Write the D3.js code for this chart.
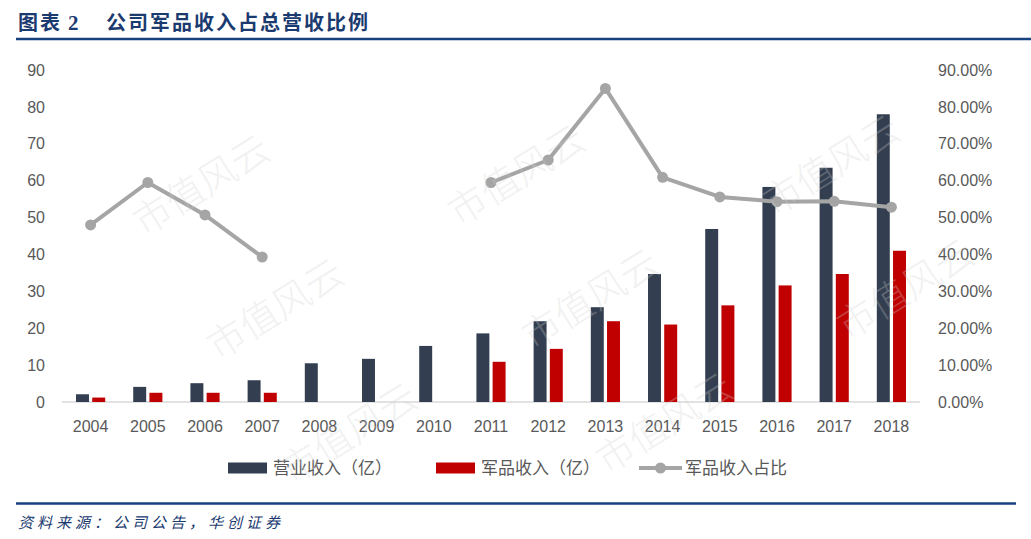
<!DOCTYPE html>
<html>
<head>
<meta charset="utf-8">
<script src="https://cdn.jsdelivr.net/npm/d3@7"></script>
<style>
  html, body { margin: 0; padding: 0; background: #fff; }
  svg { display: block; }
</style>
</head>
<body>
<svg id="chart"></svg>
<script>
// ---------------------------------------------------------------------------
// Data
// ---------------------------------------------------------------------------
const years = ["2004", "2005", "2006", "2007", "2008", "2009", "2010", "2011",
  "2012", "2013", "2014", "2015", "2016", "2017", "2018"];
// 营业收入（亿）
const revenue = [2.1, 4.1, 5.1, 5.9, 10.5, 11.7, 15.2, 18.6, 21.9, 25.7, 34.7, 46.9, 58.3, 63.5, 78.0];
// 军品收入（亿）
const military = [1.2, 2.5, 2.5, 2.5, null, null, null, 10.9, 14.4, 21.9, 21.0, 26.2, 31.6, 34.7, 41.0];
// 军品收入占比 (%)
const share = [48.0, 59.5, 50.7, 39.3, null, null, null, 59.5, 65.6, 85.0, 60.9, 55.6, 54.3, 54.4, 52.8];

const leftTicks = [0, 10, 20, 30, 40, 50, 60, 70, 80, 90];
const rightTicks = [0, 0.1, 0.2, 0.3, 0.4, 0.5, 0.6, 0.7, 0.8, 0.9];
const seriesNames = ["营业收入（亿）", "军品收入（亿）", "军品收入占比"];

// ---------------------------------------------------------------------------
// Layout
// ---------------------------------------------------------------------------
const W = 1031, H = 539;
const PLOT = { left: 62, right: 920, top: 70, bottom: 402 };
const COLORS = { revenue: "#333f50", military: "#c00000", share: "#a5a5a5",
  text: "#595959", title: "#1b3b70", rule: "#17427f" };
const FONT = "'Liberation Sans', Arial, sans-serif";
const CJK = "'Noto Sans CJK SC', sans-serif";

const svg = d3.select("#chart").attr("width", W).attr("height", H);

// ---------------------------------------------------------------------------
// Header / footer
// ---------------------------------------------------------------------------
const title = svg.append("g").attr("fill", COLORS.title)
  .attr("font-family", CJK).attr("font-weight", "bold").attr("font-size", 20);
title.append("text").attr("x", 18).attr("y", 30).attr("letter-spacing", 2).text("图表");
title.append("text").attr("x", 68).attr("y", 30).attr("font-size", 21)
  .attr("font-family", "'Liberation Serif', serif").text("2");
title.append("text").attr("x", 106).attr("y", 30).attr("letter-spacing", 2).text("公司军品收入占总营收比例");

svg.append("line").attr("x1", 16).attr("x2", W).attr("y1", 39).attr("y2", 39)
  .attr("stroke", COLORS.rule).attr("stroke-width", 2.5);
svg.append("line").attr("x1", 16).attr("x2", 1016).attr("y1", 503.5).attr("y2", 503.5)
  .attr("stroke", COLORS.rule).attr("stroke-width", 2.5);

svg.append("text").attr("x", 18).attr("y", 528)
  .attr("font-family", CJK).attr("font-style", "italic").attr("font-size", 15)
  .attr("letter-spacing", 4).attr("fill", COLORS.title)
  .text("资料来源：公司公告，华创证券");

// ---------------------------------------------------------------------------
// Scales
// ---------------------------------------------------------------------------
const x = d3.scaleBand().domain(years).range([PLOT.left, PLOT.right])
  .paddingInner(0.49).paddingOuter(0.245);
const xInner = d3.scaleBand().domain(["revenue", "military"])
  .range([0, x.bandwidth()]).paddingInner(0.2);
const y = d3.scaleLinear().domain([0, 90]).range([PLOT.bottom, PLOT.top]);
const y2 = d3.scaleLinear().domain([0, 0.9]).range([PLOT.bottom, PLOT.top]);
const cx = d => x(d) + x.bandwidth() / 2;

// ---------------------------------------------------------------------------
// Axes
// ---------------------------------------------------------------------------
function styleAxis(g) {
  g.select(".domain").remove();
  g.selectAll("text").attr("fill", COLORS.text).attr("font-family", FONT).attr("font-size", 16);
}

svg.append("g").attr("transform", `translate(${PLOT.left},0)`)
  .call(d3.axisLeft(y).tickValues(leftTicks).tickSize(0).tickPadding(17))
  .call(styleAxis);

svg.append("g").attr("transform", `translate(${PLOT.right},0)`)
  .call(d3.axisRight(y2).tickValues(rightTicks).tickSize(0).tickPadding(18)
    .tickFormat(d => (d * 100).toFixed(2) + "%"))
  .call(styleAxis);

const xAxis = svg.append("g").attr("transform", `translate(0,${PLOT.bottom})`)
  .call(d3.axisBottom(x).tickSize(0).tickPadding(19));
xAxis.select(".domain").attr("stroke", "#d9d9d9").attr("stroke-width", 1.5)
  .attr("d", `M${PLOT.left},0H${PLOT.right}`);
xAxis.selectAll("text").attr("fill", COLORS.text).attr("font-family", FONT).attr("font-size", 16);

// ---------------------------------------------------------------------------
// Bars
// ---------------------------------------------------------------------------
const barData = years.flatMap((yr, i) => [
  { year: yr, key: "revenue", value: revenue[i] },
  { year: yr, key: "military", value: military[i] }
]).filter(d => d.value !== null);

svg.append("g").selectAll("rect")
  .data(barData)
  .join("rect")
  .attr("x", d => x(d.year) + xInner(d.key))
  .attr("width", xInner.bandwidth())
  .attr("y", d => y(d.value))
  .attr("height", d => y(0) - y(d.value))
  .attr("fill", d => COLORS[d.key]);

// ---------------------------------------------------------------------------
// Share line
// ---------------------------------------------------------------------------
const lineData = years.map((yr, i) => ({ year: yr, value: share[i] }));
const line = d3.line()
  .defined(d => d.value !== null)
  .x(d => cx(d.year))
  .y(d => y2(d.value / 100));

svg.append("path").datum(lineData)
  .attr("d", line)
  .attr("fill", "none")
  .attr("stroke", COLORS.share)
  .attr("stroke-width", 4)
  .attr("stroke-linejoin", "round");

svg.append("g").selectAll("circle")
  .data(lineData.filter(d => d.value !== null))
  .join("circle")
  .attr("cx", d => cx(d.year))
  .attr("cy", d => y2(d.value / 100))
  .attr("r", 5.5)
  .attr("fill", COLORS.share);

// ---------------------------------------------------------------------------
// Legend
// ---------------------------------------------------------------------------
const legend = svg.append("g").attr("font-family", CJK).attr("font-size", 17).attr("fill", COLORS.text);
const legendY = 468;
[[228, COLORS.revenue], [436, COLORS.military]].forEach(([lx, c], i) => {
  legend.append("rect").attr("x", lx).attr("y", legendY - 5.5).attr("width", 39).attr("height", 11).attr("fill", c);
  legend.append("text").attr("x", lx + 45).attr("y", legendY).attr("dy", "0.35em").text(seriesNames[i]);
});
legend.append("line").attr("x1", 639).attr("x2", 682).attr("y1", legendY).attr("y2", legendY)
  .attr("stroke", COLORS.share).attr("stroke-width", 4);
legend.append("circle").attr("cx", 660.5).attr("cy", legendY).attr("r", 5.5).attr("fill", COLORS.share);
legend.append("text").attr("x", 685).attr("y", legendY).attr("dy", "0.35em").text(seriesNames[2]);

// ---------------------------------------------------------------------------
// Watermark "市值风云" tiles (only those that fit fully on the page)
// ---------------------------------------------------------------------------
const wm = svg.append("g").attr("pointer-events", "none");
for (let r = -1; r < 5; r++) {
  for (let c = -1; c < 4; c++) {
    const wx = 70 + c * 315 + r * 74;
    const wy = 113 - c * 10 + r * 124;
    const t = wm.append("text")
      .attr("transform", `translate(${wx},${wy}) rotate(-32)`)
      .attr("font-family", CJK).attr("font-size", 38).attr("font-weight", 300)
      .attr("fill", "#cfcfcf").attr("opacity", 0.28)
      .text("市值风云");
    const b = t.node().getBoundingClientRect();
    if (b.left < 0 || b.top < 0 || b.right > W || b.bottom > H) t.remove();
  }
}
</script>
</body>
</html>
